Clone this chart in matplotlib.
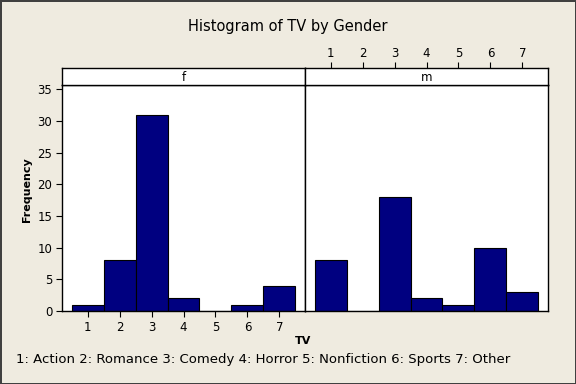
import matplotlib
matplotlib.use('Agg')
from matplotlib import pyplot as plt

# Data
categories = [1, 2, 3, 4, 5, 6, 7]
freq_f = [1, 8, 31, 2, 0, 1, 4]
freq_m = [8, 0, 18, 2, 1, 10, 3]
panel_names = ['f', 'm']
y_ticks = [0, 5, 10, 15, 20, 25, 30, 35]
footnote = '1: Action 2: Romance 3: Comedy 4: Horror 5: Nonfiction 6: Sports 7: Other'

W, H = 576, 384
BG = '#EFEBE0'
BAR = '#000080'

plt.rcParams['font.family'] = ['DejaVu Sans']

fig = plt.figure(figsize=(W / 100, H / 100), dpi=100, facecolor=BG,
                 edgecolor='#404040', linewidth=2)


def box(x0, y0, x1, y1):
    # pixel box (top-left origin) -> figure fraction rect
    return [x0 / W, 1 - y1 / H, (x1 - x0) / W, (y1 - y0) / H]


left, mid, right = 62, 305, 548
strip_top, strip_bot, plot_bot = 68, 85, 311
xlim = (0.2, 7.8)
ylim = (0, 35.7)

ax_f = fig.add_axes(box(left, strip_bot, mid, plot_bot))
ax_m = fig.add_axes(box(mid, strip_bot, right, plot_bot))
st_f = fig.add_axes(box(left, strip_top, mid, strip_bot))
st_m = fig.add_axes(box(mid, strip_top, right, strip_bot))

for ax, vals in ((ax_f, freq_f), (ax_m, freq_m)):
    ax.bar(categories, vals, width=1.0, color=BAR, edgecolor='black', linewidth=0.8)
    ax.set_xlim(*xlim)
    ax.set_ylim(*ylim)
    ax.set_facecolor('white')
    for sp in ax.spines.values():
        sp.set_linewidth(1)

ax_f.set_yticks(y_ticks)
ax_f.set_xticks(categories)
ax_f.tick_params(direction='out', length=4, width=0.8, labelsize=8.5, pad=3)
ax_m.set_xticks([])
ax_m.set_yticks([])

for st, name in ((st_f, panel_names[0]), (st_m, panel_names[1])):
    st.set_xlim(*xlim)
    st.set_ylim(0, 1)
    st.set_facecolor('white')
    st.set_yticks([])
    st.text(0.5, 0.45, name, transform=st.transAxes, ha='center', va='center', fontsize=8.5)
    for sp in st.spines.values():
        sp.set_linewidth(1)

st_f.set_xticks([])
st_m.set_xticks(categories)
st_m.xaxis.tick_top()
st_m.tick_params(direction='out', length=4, width=0.8, labelsize=8.5, pad=2)

fig.text(0.5, 1 - 27 / H, 'Histogram of TV by Gender', ha='center', va='center', fontsize=10.5)
fig.text(27 / W, 1 - 190 / H, 'Frequency', rotation=90, ha='center', va='center',
         fontsize=8, fontweight='bold')
fig.text(303 / W, 1 - 341 / H, 'TV', ha='center', va='center', fontsize=8, fontweight='bold')
fig.text(16 / W, 1 - 360 / H, footnote, ha='left', va='center', fontsize=9.5)

fig.savefig('out.png', dpi=100, facecolor=BG)
